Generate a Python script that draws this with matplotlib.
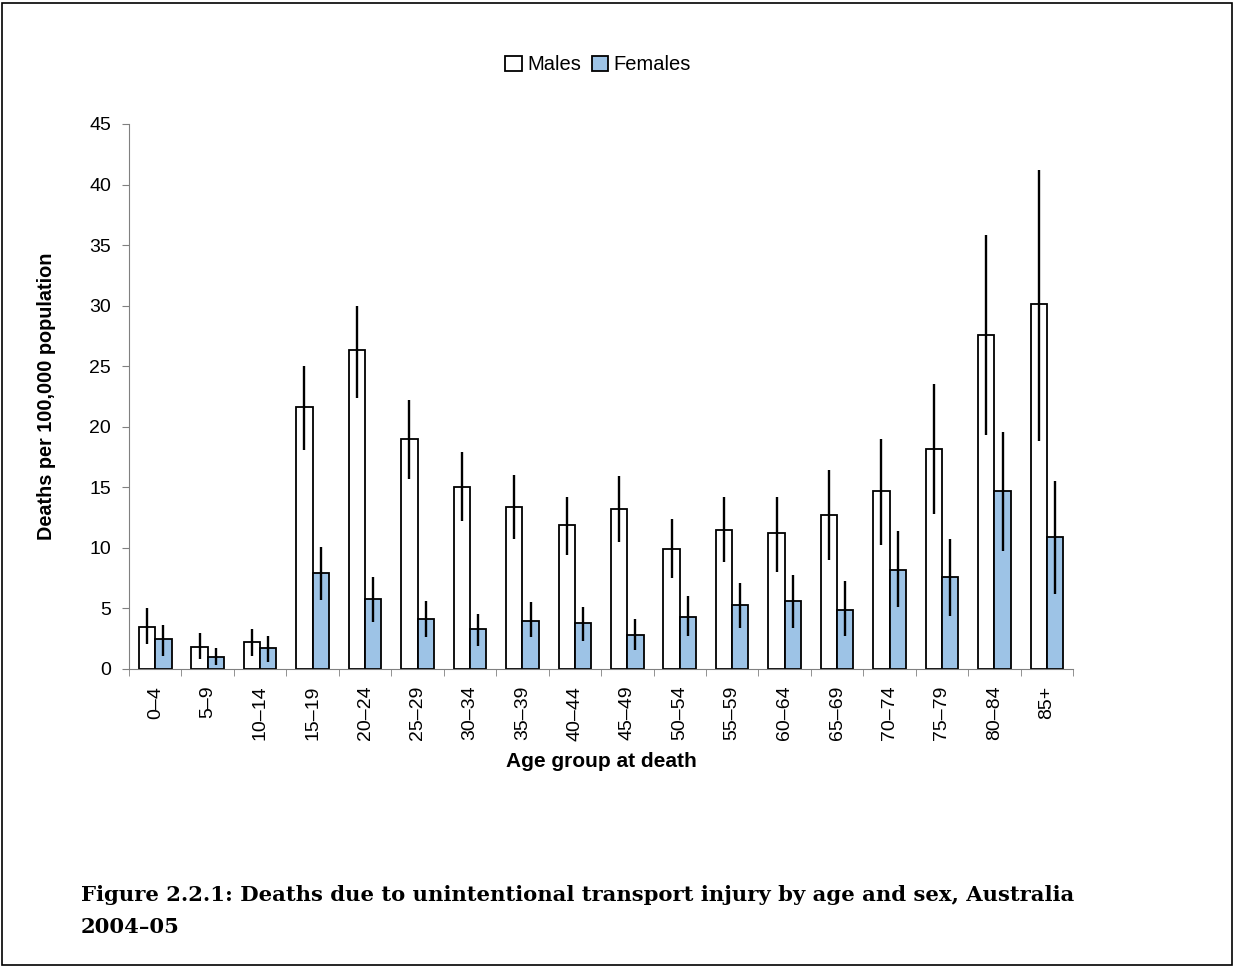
import matplotlib
matplotlib.use("Agg")
import matplotlib.pyplot as plt
from matplotlib.patches import Rectangle
import numpy as np

plt.rcParams['font.family'] = ['Liberation Sans', 'DejaVu Sans']

# age groups and rates (deaths per 100,000)
age_groups = ["0–4", "5–9", "10–14", "15–19", "20–24", "25–29", "30–34", "35–39", "40–44",
              "45–49", "50–54", "55–59", "60–64", "65–69", "70–74", "75–79", "80–84", "85+"]
males = [3.5, 1.8, 2.2, 21.6, 26.3, 19.0, 15.0, 13.4, 11.9, 13.2, 9.9, 11.5, 11.2, 12.7, 14.7, 18.2, 27.6, 30.1]
males_lo = [2.1, 0.8, 1.1, 18.1, 22.4, 15.7, 12.2, 10.7, 9.4, 10.5, 7.5, 8.8, 8.0, 9.0, 10.2, 12.8, 19.3, 18.8]
males_hi = [5.0, 3.0, 3.3, 25.0, 30.0, 22.2, 17.9, 16.0, 14.2, 15.9, 12.4, 14.2, 14.2, 16.4, 19.0, 23.5, 35.8, 41.2]
females = [2.5, 1.0, 1.7, 7.9, 5.8, 4.1, 3.3, 4.0, 3.8, 2.8, 4.3, 5.3, 5.6, 4.9, 8.2, 7.6, 14.7, 10.9]
females_lo = [1.1, 0.3, 0.6, 5.7, 3.9, 2.6, 1.9, 2.6, 2.3, 1.6, 2.7, 3.4, 3.4, 2.7, 5.1, 4.4, 9.7, 6.2]
females_hi = [3.6, 1.7, 2.7, 10.1, 7.6, 5.6, 4.5, 5.5, 5.1, 4.1, 6.0, 7.1, 7.8, 7.3, 11.4, 10.7, 19.6, 15.5]

fig = plt.figure(figsize=(12.36, 9.67), dpi=100)
ax = fig.add_axes([0.1044, 0.3082, 0.7638, 0.5636])

x = np.arange(len(age_groups))
w = 0.31
m = np.array(males)
f = np.array(females)
ax.bar(x - w/2, m, w, color='white', edgecolor='black', linewidth=1.3, label='Males', zorder=2)
ax.bar(x + w/2, f, w, color='#9dc3e6', edgecolor='black', linewidth=1.3, label='Females', zorder=2)
ax.errorbar(x - w/2, m, yerr=[m - np.array(males_lo), np.array(males_hi) - m],
            fmt='none', ecolor='black', elinewidth=1.7, capsize=0, zorder=3)
ax.errorbar(x + w/2, f, yerr=[f - np.array(females_lo), np.array(females_hi) - f],
            fmt='none', ecolor='black', elinewidth=1.7, capsize=0, zorder=3)

ax.set_xlim(-0.5, len(age_groups) - 0.5)
ax.set_ylim(0, 45)
ax.set_yticks(range(0, 46, 5))
ax.set_xticks(x)
ax.set_xticklabels(age_groups, rotation=90, fontsize=14)
ax.set_xticks(np.arange(-0.5, len(age_groups)), minor=True)
ax.tick_params(axis='x', which='major', length=0, pad=12)
ax.tick_params(axis='x', which='minor', length=5, color='#808080')
ax.tick_params(axis='y', length=5, color='#808080', labelsize=14, pad=8)
for s in ['top', 'right']:
    ax.spines[s].set_visible(False)
for s in ['left', 'bottom']:
    ax.spines[s].set_color('#808080')

ax.set_ylabel("Deaths per 100,000 population", fontsize=14.3, fontweight='bold', labelpad=24)
ax.set_xlabel("Age group at death", fontsize=15, fontweight='bold', labelpad=8)

fig.legend(loc='center', bbox_to_anchor=(0.484, 0.933), ncol=2, frameon=False, fontsize=14.5,
           handlelength=0.8, handleheight=0.8, handletextpad=0.3, columnspacing=0.5)

fig.text(81, 967 - 901, "Figure 2.2.1: Deaths due to unintentional transport injury by age and sex, Australia",
         transform=None, fontsize=15.2, fontweight='bold', family='DejaVu Serif', va='baseline', ha='left')
fig.text(81, 967 - 933, "2004–05",
         transform=None, fontsize=15.2, fontweight='bold', family='DejaVu Serif', va='baseline', ha='left')

fig.patches.append(Rectangle((0.002, 0.002), 0.995, 0.995, transform=fig.transFigure,
                             fill=False, edgecolor='black', linewidth=1.2))

fig.savefig("out.png", dpi=100)
